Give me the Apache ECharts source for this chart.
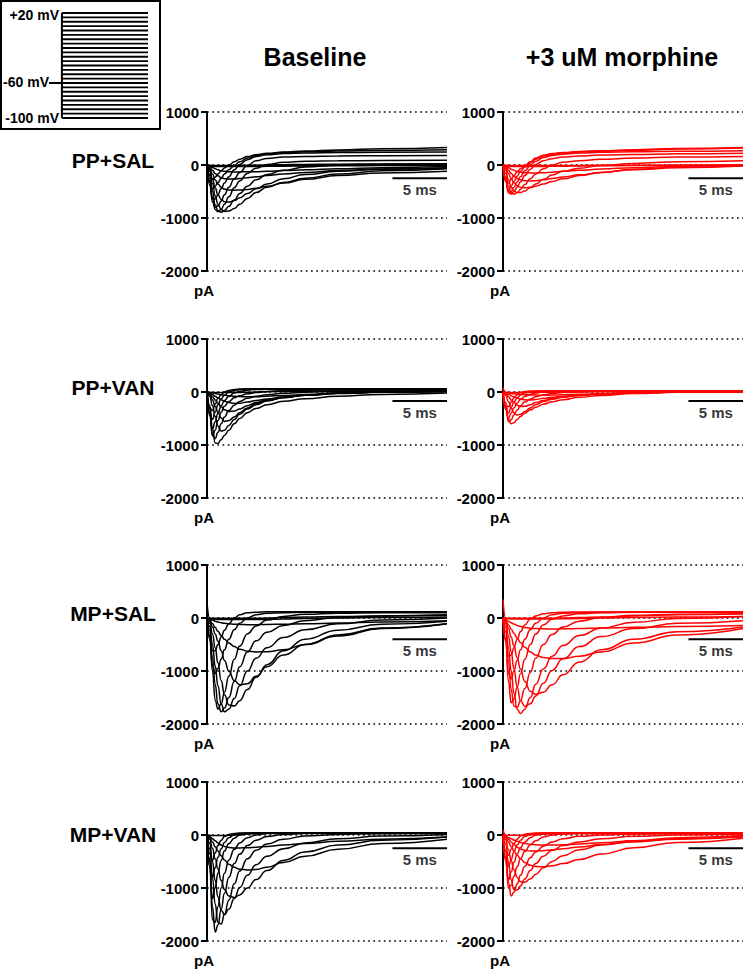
<!DOCTYPE html>
<html><head><meta charset="utf-8">
<script src="https://cdn.jsdelivr.net/npm/echarts@6/dist/echarts.min.js"></script>
<style>html,body{margin:0;padding:0;background:#fff}#c{width:745px;height:971px}</style>
</head><body><div id="c"></div>
<script>
// time samples (ms) shared by all traces
const T = [0, 0.25, 0.5, 0.75, 1.0, 1.3, 1.6, 2.0, 2.5, 3.0, 3.7, 4.5, 5.5, 7, 9, 12, 16, 22];

const colLabels = ['Baseline', '+3 uM morphine'];
const rowLabels = ['PP+SAL', 'PP+VAN', 'MP+SAL', 'MP+VAN'];
const yTicks = [-2000, -1000, 0, 1000];
const scaleBarLevel = [-250, -170, -400, -250];   // pA level of the 5 ms bar per row
const scaleBarSpan = [17, 22];                    // ms
const stepVoltages = [20,15,10,5,0,-5,-10,-15,-20,-25,-30,-35,-40,-45,-50,-55,-60,-65,-70,-75,-80,-85,-90,-95,-100];
const holdingV = -60;

// current traces (pA), one row per voltage step, sampled at T
const ppSalBase = [
  [0,-5,-10,-10,-10,-10,-10,-10,-10,-10,-10,-10,-10,-10,-8,-5,-5,-5],
  [0,-15,-25,-30,-30,-30,-30,-30,-30,-30,-30,-28,-25,-22,-20,-15,-10,-10],
  [0,-8,-15,-20,-20,-20,-20,-18,-15,-12,-10,-5,0,5,10,15,20,25],
  [0,-20,-45,-70,-90,-110,-120,-128,-130,-130,-128,-125,-118,-105,-90,-70,-50,-30],
  [0,-40,-100,-160,-205,-240,-258,-265,-262,-255,-240,-222,-200,-170,-140,-105,-75,-50],
  [0,-60,-170,-280,-360,-420,-455,-470,-475,-470,-460,-440,-400,-340,-270,-200,-150,-120],
  [0,-90,-260,-430,-560,-650,-695,-700,-670,-620,-540,-450,-360,-260,-180,-120,-80,-60],
  [0,-120,-350,-580,-740,-840,-875,-870,-820,-740,-630,-520,-420,-330,-250,-170,-110,-70],
  [0,-180,-500,-750,-860,-890,-860,-780,-660,-540,-400,-280,-180,-100,-40,0,15,20],
  [0,-250,-620,-840,-880,-840,-740,-600,-430,-300,-160,-60,10,50,70,80,85,90],
  [0,-320,-700,-800,-770,-680,-560,-420,-260,-140,-10,80,125,150,160,170,175,180],
  [0,-380,-640,-640,-560,-450,-340,-220,-90,10,100,160,195,215,225,235,240,245],
  [0,-300,-450,-400,-330,-250,-170,-90,-10,60,130,180,210,235,250,262,275,290],
  [0,-200,-280,-230,-170,-110,-55,0,60,110,160,195,220,245,265,285,305,330]
];
const ppSalMor = [
  [0,-5,-8,-8,-8,-8,-8,-8,-8,-8,-8,-8,-8,-8,-5,-5,-5,0],
  [0,-15,-25,-30,-30,-30,-30,-30,-30,-28,-26,-24,-22,-20,-15,-10,-5,0],
  [0,-20,-50,-80,-100,-120,-135,-145,-150,-150,-145,-135,-120,-100,-75,-50,-30,-10],
  [0,-40,-100,-160,-210,-255,-280,-295,-300,-295,-280,-255,-225,-185,-140,-90,-50,-20],
  [0,-60,-160,-260,-330,-390,-420,-430,-420,-400,-360,-310,-260,-200,-140,-80,-40,-10],
  [0,-100,-280,-420,-490,-520,-520,-490,-430,-360,-270,-190,-120,-60,-10,30,60,80],
  [0,-160,-400,-520,-550,-520,-460,-370,-260,-170,-70,0,50,80,110,130,150,160],
  [0,-230,-500,-550,-500,-420,-320,-200,-80,10,80,120,150,170,190,200,210,220],
  [0,-300,-530,-500,-420,-320,-220,-110,-10,70,140,180,205,225,240,250,260,270],
  [0,-320,-470,-400,-310,-210,-120,-40,40,110,170,205,225,245,260,280,300,320],
  [0,-260,-340,-270,-200,-130,-70,-10,60,130,185,215,235,255,270,290,310,330]
];
const ppVanBase = [
  [0,-5,-10,-10,-10,-10,-10,-10,-10,-8,-5,0,5,10,15,20,20,20],
  [0,-10,-20,-30,-40,-50,-60,-70,-80,-85,-90,-88,-80,-65,-45,-20,0,10],
  [0,-20,-50,-80,-110,-145,-175,-200,-215,-210,-190,-160,-130,-95,-60,-30,-5,10],
  [0,-30,-90,-150,-210,-280,-335,-370,-360,-320,-260,-200,-150,-100,-60,-25,0,15],
  [0,-50,-150,-270,-380,-490,-555,-540,-470,-390,-300,-220,-160,-105,-60,-25,0,20],
  [0,-80,-260,-460,-640,-740,-720,-630,-520,-420,-320,-240,-170,-110,-60,-25,5,25],
  [0,-250,-700,-960,-970,-900,-820,-720,-600,-500,-390,-310,-240,-175,-125,-80,-45,-20],
  [0,-320,-800,-880,-760,-600,-470,-350,-250,-180,-120,-80,-50,-25,-5,10,20,25],
  [0,-400,-830,-720,-540,-380,-270,-180,-110,-70,-35,-10,10,25,35,40,40,40],
  [0,-450,-700,-560,-400,-260,-160,-80,-20,15,35,45,50,50,50,50,50,50],
  [0,-400,-520,-380,-240,-130,-60,0,30,45,55,55,55,55,55,55,55,55],
  [0,-300,-350,-230,-120,-50,0,30,45,55,60,60,60,60,60,60,60,60]
];
const ppVanMor = [
  [80,-5,-8,-8,-8,-8,-8,-8,-8,-6,-5,-3,0,0,5,5,10,10],
  [0,-10,-20,-28,-34,-40,-45,-50,-55,-58,-60,-58,-52,-42,-30,-15,0,5],
  [0,-20,-45,-70,-90,-115,-135,-148,-150,-140,-120,-100,-80,-55,-35,-15,0,5],
  [0,-35,-90,-150,-200,-250,-275,-270,-240,-200,-160,-120,-90,-60,-35,-15,0,5],
  [0,-60,-180,-300,-390,-435,-420,-370,-300,-240,-180,-135,-100,-65,-40,-15,0,10],
  [0,-200,-520,-600,-580,-520,-460,-400,-340,-290,-230,-185,-145,-100,-65,-30,-5,10],
  [0,-280,-560,-520,-430,-340,-260,-190,-130,-90,-55,-30,-10,5,15,20,20,20],
  [0,-330,-500,-400,-300,-210,-140,-85,-45,-20,0,10,15,20,20,20,20,20],
  [0,-320,-400,-290,-190,-110,-55,-15,5,15,20,20,20,20,20,20,20,20],
  [0,-250,-280,-190,-110,-50,-10,10,20,20,20,20,20,20,20,20,20,20]
];
const mpSalBase = [
  [280,0,-5,-5,-5,-5,-5,-5,-5,-5,-5,-5,0,10,20,30,40,50],
  [0,-10,-20,-25,-30,-30,-30,-30,-30,-30,-30,-28,-25,-20,-10,0,10,20],
  [0,-20,-40,-60,-75,-90,-100,-110,-118,-122,-125,-125,-122,-118,-110,-95,-75,-50],
  [0,-40,-110,-180,-250,-330,-400,-470,-540,-590,-625,-640,-635,-600,-500,-340,-200,-110],
  [0,-60,-170,-300,-440,-620,-800,-1000,-1180,-1260,-1240,-1100,-920,-700,-500,-320,-190,-110],
  [0,-100,-300,-560,-850,-1180,-1450,-1640,-1660,-1560,-1350,-1120,-880,-620,-400,-230,-120,-60],
  [0,-160,-500,-900,-1280,-1620,-1770,-1720,-1520,-1280,-1000,-760,-560,-370,-220,-110,-40,0],
  [0,-230,-750,-1250,-1620,-1770,-1700,-1500,-1200,-920,-640,-430,-270,-140,-50,10,40,60],
  [0,-330,-1000,-1550,-1720,-1620,-1400,-1100,-780,-530,-300,-150,-40,30,70,90,100,100],
  [0,-400,-900,-1050,-950,-780,-600,-400,-220,-100,0,60,90,100,110,110,110,110],
  [0,-350,-620,-620,-500,-360,-230,-110,0,60,100,110,120,120,120,120,120,120]
];
const mpSalMor = [
  [350,0,-5,-5,-5,-5,-5,-5,-5,-5,-5,-5,0,10,20,40,60,80],
  [0,-10,-15,-20,-20,-20,-20,-20,-20,-20,-20,-18,-15,-10,0,10,20,30],
  [0,-30,-60,-90,-115,-140,-160,-178,-192,-200,-205,-207,-205,-200,-190,-175,-160,-140],
  [0,-50,-130,-210,-290,-380,-460,-550,-640,-700,-745,-765,-765,-720,-640,-470,-320,-200],
  [0,-70,-200,-360,-530,-750,-960,-1200,-1380,-1440,-1400,-1260,-1070,-830,-600,-400,-260,-170],
  [0,-110,-340,-640,-960,-1300,-1560,-1670,-1620,-1470,-1230,-990,-770,-540,-350,-200,-100,-50],
  [0,-170,-560,-1000,-1420,-1720,-1800,-1720,-1500,-1250,-960,-720,-520,-330,-190,-80,-10,30],
  [0,-260,-820,-1350,-1660,-1690,-1560,-1330,-1030,-760,-500,-310,-170,-60,10,50,70,80],
  [0,-400,-1200,-1600,-1530,-1300,-1050,-780,-500,-300,-130,-20,40,80,100,110,110,110],
  [0,-450,-1050,-1150,-1000,-800,-600,-400,-220,-100,0,60,90,100,110,110,110,110],
  [0,-400,-720,-700,-560,-400,-260,-130,-20,40,80,100,110,115,115,115,115,120]
];
const mpVanBase = [
  [0,-5,-10,-10,-10,-10,-10,-5,0,10,20,30,35,40,40,40,40,40],
  [0,-30,-70,-110,-150,-190,-215,-235,-245,-245,-240,-230,-215,-190,-160,-120,-80,-40],
  [0,-50,-130,-220,-300,-390,-470,-550,-610,-645,-660,-650,-610,-520,-400,-270,-160,-80],
  [0,-80,-250,-450,-640,-860,-1030,-1150,-1180,-1130,-1000,-840,-670,-480,-320,-190,-100,-40],
  [0,-150,-500,-860,-1170,-1420,-1500,-1400,-1200,-990,-760,-560,-400,-260,-150,-70,-20,10],
  [0,-260,-800,-1300,-1650,-1680,-1500,-1230,-920,-680,-450,-290,-170,-80,-20,10,25,30],
  [0,-450,-1350,-1830,-1700,-1400,-1100,-800,-540,-360,-200,-100,-30,10,30,40,40,40],
  [0,-600,-1600,-1650,-1350,-1000,-720,-470,-270,-150,-50,0,30,40,40,40,40,40],
  [0,-600,-1200,-1000,-720,-480,-300,-160,-60,0,30,40,40,40,40,40,40,40],
  [0,-500,-800,-620,-420,-260,-140,-50,0,25,40,40,40,40,40,40,40,40],
  [0,-350,-480,-340,-200,-100,-30,10,30,40,40,40,40,40,40,40,40,40]
];
const mpVanMor = [
  [100,0,-5,-5,-5,-5,-5,0,5,10,15,20,25,30,30,30,30,30],
  [0,-20,-45,-70,-95,-120,-140,-160,-175,-185,-190,-190,-185,-170,-145,-110,-70,-30],
  [0,-30,-80,-130,-180,-230,-265,-290,-300,-300,-295,-280,-260,-225,-180,-130,-80,-40],
  [0,-50,-130,-220,-300,-380,-450,-520,-570,-595,-600,-580,-540,-460,-360,-240,-140,-60],
  [0,-90,-280,-480,-650,-800,-880,-890,-830,-740,-620,-500,-390,-280,-190,-110,-50,-10],
  [0,-160,-520,-850,-1030,-1040,-960,-830,-670,-540,-400,-290,-200,-130,-70,-25,0,20],
  [0,-300,-900,-1150,-1080,-920,-760,-590,-430,-320,-210,-130,-70,-25,0,20,30,30],
  [0,-450,-1000,-950,-780,-600,-450,-310,-190,-110,-40,0,20,30,30,30,30,30],
  [0,-500,-850,-700,-520,-360,-240,-130,-50,0,30,40,40,40,40,40,40,40],
  [0,-420,-600,-460,-310,-190,-100,-30,10,30,40,40,40,40,40,40,40,40],
  [0,-300,-380,-270,-160,-80,-20,15,30,40,40,40,40,40,40,40,40,40]
];

const panels = [
  [ppSalBase, ppSalMor],
  [ppVanBase, ppVanMor],
  [mpSalBase, mpSalMor],
  [mpVanBase, mpVanMor]
];

// ---------- layout / style ----------
const FF = '"Liberation Sans", Arial, Helvetica, sans-serif';
const colLeft = [207, 503];
const rowTop = [112, 339, 565, 782];
const plotW = 240, plotH = 159;
const traceColor = ['#000000', '#ff0000'];

const grid = [], xAxis = [], yAxis = [], series = [];
let gi = 0;
for (let r = 0; r < 4; r++) {
  for (let c = 0; c < 2; c++) {
    grid.push({left: colLeft[c], top: rowTop[r], width: plotW, height: plotH, containLabel: false});
    xAxis.push({gridIndex: gi, type: 'value', min: 0, max: 22, show: false});
    yAxis.push({
      gridIndex: gi, type: 'value', min: yTicks[0], max: yTicks[yTicks.length - 1], interval: 1000,
      axisLine: {show: true, onZero: false, lineStyle: {color: '#000', width: 2}},
      axisTick: {show: true, length: 6, lineStyle: {color: '#000', width: 2}},
      axisLabel: {color: '#000', fontSize: 15, fontWeight: 'bold', fontFamily: FF, margin: 8,
                  formatter: v => String(v)},
      splitLine: {show: true, lineStyle: {color: '#000', width: 1.7, type: [1.7, 3.5]}},
      name: 'pA', nameLocation: 'start', nameGap: 12,
      nameTextStyle: {color: '#000', fontSize: 15, fontWeight: 'bold', fontFamily: FF, padding: [0, 6, 0, 0]}
    });
    panels[r][c].forEach(tr => {
      series.push({
        type: 'line', xAxisIndex: gi, yAxisIndex: gi,
        data: T.map((t, i) => [t, tr[i]]),
        symbol: 'none', smooth: 0.5, smoothMonotone: 'x',
        lineStyle: {color: traceColor[c], width: 1.5},
        silent: true, z: 3
      });
    });
    const lvl = scaleBarLevel[r];
    series.push({
      type: 'line', xAxisIndex: gi, yAxisIndex: gi,
      data: [[scaleBarSpan[0], lvl], [scaleBarSpan[1], lvl]],
      symbol: 'none', lineStyle: {color: '#000', width: 2}, silent: true, z: 4
    });
    series.push({
      type: 'scatter', xAxisIndex: gi, yAxisIndex: gi,
      data: [[(scaleBarSpan[0] + scaleBarSpan[1]) / 2, lvl]],
      symbolSize: 1, itemStyle: {color: 'rgba(0,0,0,0)'}, silent: true, z: 4,
      label: {show: true, position: 'bottom', distance: 3, formatter: '5 ms',
              color: '#000', fontSize: 15, fontWeight: 'bold', fontFamily: FF}
    });
    gi++;
  }
}

// voltage-step protocol inset
grid.push({left: 49, top: 13, width: 99, height: 105});
xAxis.push({gridIndex: gi, type: 'value', min: -0.15, max: 1, show: false});
yAxis.push({gridIndex: gi, type: 'value', min: -100, max: 20, show: false});
stepVoltages.forEach(v => {
  series.push({type: 'line', xAxisIndex: gi, yAxisIndex: gi, data: [[0, v], [1, v]],
    symbol: 'none', lineStyle: {color: '#000', width: 1.8}, silent: true});
});
series.push({type: 'line', xAxisIndex: gi, yAxisIndex: gi,
  data: [[0, stepVoltages[stepVoltages.length - 1]], [0, stepVoltages[0]]],
  symbol: 'none', lineStyle: {color: '#000', width: 2}, silent: true});
series.push({type: 'line', xAxisIndex: gi, yAxisIndex: gi,
  data: [[-0.15, holdingV], [0, holdingV]],
  symbol: 'none', lineStyle: {color: '#000', width: 2}, silent: true});

const txt = (x, y, s, size, align) => ({
  type: 'text', x: x, y: y,
  style: {text: s, fill: '#000', font: 'bold ' + size + 'px ' + FF, textAlign: align || 'center', textVerticalAlign: 'middle'}
});
const graphic = [
  {type: 'rect', shape: {x: 1, y: 1, width: 159, height: 128}, style: {fill: 'none', stroke: '#000', lineWidth: 2}},
  txt(59, 15, '+20 mV', 14, 'right'),
  txt(49, 82, '-60 mV', 14, 'right'),
  txt(59, 118, '-100 mV', 14, 'right'),
  txt(315, 57, colLabels[0], 25),
  txt(622, 57, colLabels[1], 25),
  txt(113, 160, rowLabels[0], 21),
  txt(113, 387, rowLabels[1], 21),
  txt(113, 613, rowLabels[2], 21),
  txt(113, 834, rowLabels[3], 21)
];

const chart = echarts.init(document.getElementById('c'), null, {renderer: 'svg'});
chart.setOption({
  animation: false, backgroundColor: '#fff',
  grid, xAxis, yAxis, series, graphic
});
</script>
</body></html>
